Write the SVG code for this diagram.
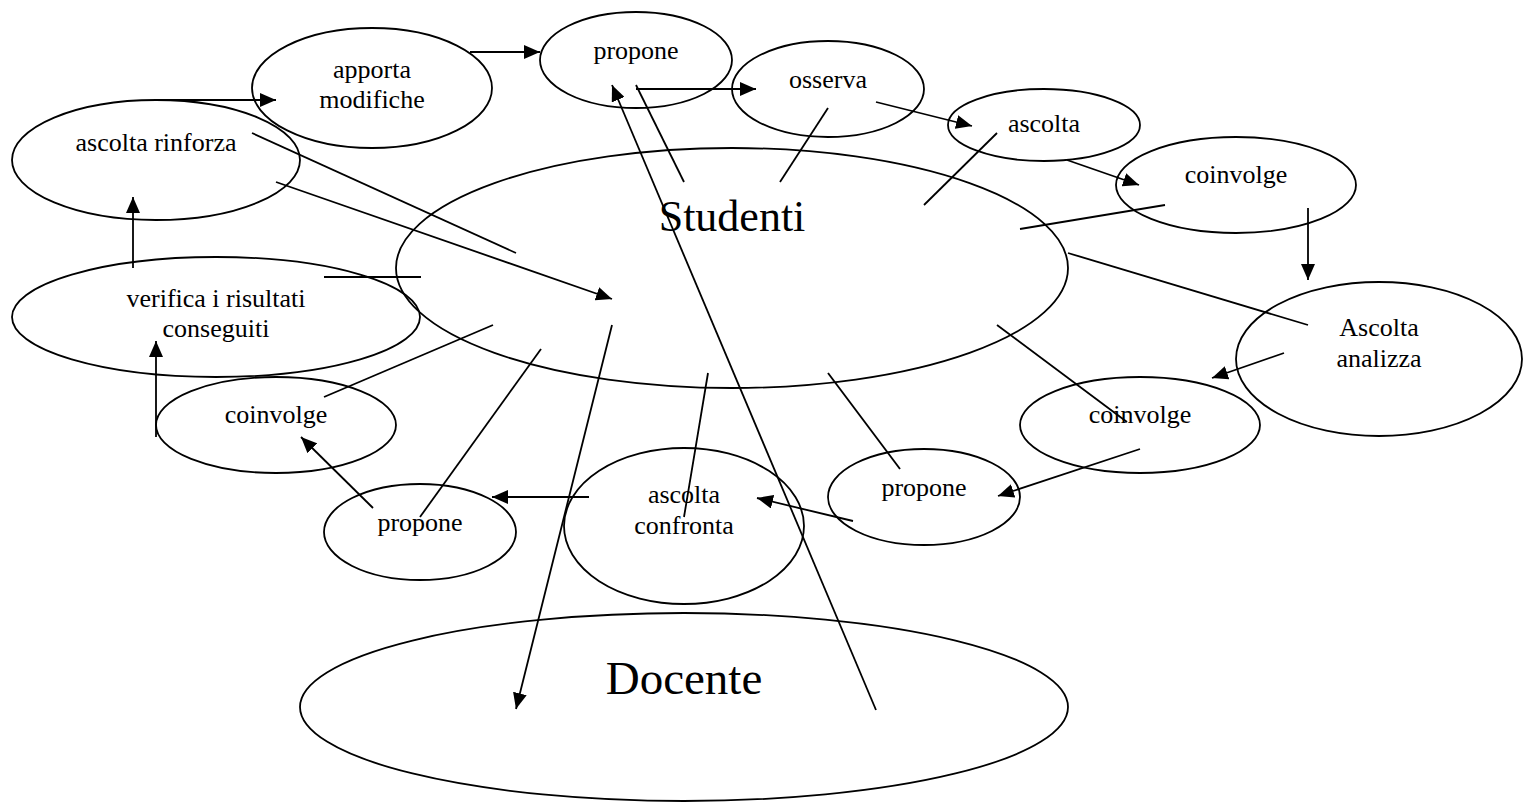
<svg xmlns="http://www.w3.org/2000/svg" width="1524" height="803" viewBox="0 0 1524 803">
<style>
.n{fill:none;stroke:#000;stroke-width:1.8}
.t{font-family:"Liberation Serif","Times New Roman",serif;font-size:26px;fill:#000;text-anchor:middle}
.b{font-family:"Liberation Serif","Times New Roman",serif;fill:#000;text-anchor:middle}
.c line{stroke:#000;stroke-width:1.8}
.a{marker-end:url(#ah)}
</style>
<defs>
<marker id="ah" markerUnits="userSpaceOnUse" markerWidth="16" markerHeight="14" refX="16" refY="7" orient="auto">
<path d="M0,0 L16,7 L0,14 z" fill="#000"/>
</marker>
</defs>
<rect width="1524" height="803" fill="#fff"/>
<g id="studenti"><ellipse class="n" cx="732" cy="268" rx="336" ry="120"/><text class="b" x="732" y="231" font-size="44">Studenti</text></g>
<g id="docente"><ellipse class="n" cx="684" cy="707" rx="384" ry="94"/><text class="b" x="684" y="694" font-size="47">Docente</text></g>
<g id="apporta"><ellipse class="n" cx="372" cy="88" rx="120" ry="60"/><text class="t" x="372" y="78">apporta</text><text class="t" x="372" y="108">modifiche</text></g>
<g id="rinforza"><ellipse class="n" cx="156" cy="160" rx="144" ry="60"/><text class="t" x="156" y="151">ascolta rinforza</text></g>
<g id="propone1"><ellipse class="n" cx="636" cy="60" rx="96" ry="48"/><text class="t" x="636" y="59">propone</text></g>
<g id="osserva"><ellipse class="n" cx="828" cy="89" rx="96" ry="48"/><text class="t" x="828" y="88">osserva</text></g>
<g id="ascolta"><ellipse class="n" cx="1044" cy="125" rx="96" ry="36"/><text class="t" x="1044" y="132">ascolta</text></g>
<g id="coinvolge1"><ellipse class="n" cx="1236" cy="185" rx="120" ry="48"/><text class="t" x="1236" y="183">coinvolge</text></g>
<g id="analizza"><ellipse class="n" cx="1379" cy="359" rx="143" ry="77"/><text class="t" x="1379" y="336">Ascolta</text><text class="t" x="1379" y="367">analizza</text></g>
<g id="coinvolge2"><ellipse class="n" cx="1140" cy="425" rx="120" ry="48"/><text class="t" x="1140" y="423">coinvolge</text></g>
<g id="propone2"><ellipse class="n" cx="924" cy="497" rx="96" ry="48"/><text class="t" x="924" y="496">propone</text></g>
<g id="confronta"><ellipse class="n" cx="684" cy="526" rx="120" ry="78"/><text class="t" x="684" y="503">ascolta</text><text class="t" x="684" y="534">confronta</text></g>
<g id="propone3"><ellipse class="n" cx="420" cy="532" rx="96" ry="48"/><text class="t" x="420" y="531">propone</text></g>
<g id="coinvolge3"><ellipse class="n" cx="276" cy="425" rx="120" ry="48"/><text class="t" x="276" y="423">coinvolge</text></g>
<g id="verifica"><ellipse class="n" cx="216" cy="317" rx="204" ry="60"/><text class="t" x="216" y="307">verifica i risultati</text><text class="t" x="216" y="337">conseguiti</text></g>
<g id="connectors" class="c">
<line class="a" x1="470" y1="52" x2="540" y2="52"/>
<line class="a" x1="155" y1="100" x2="276" y2="100"/>
<line class="a" x1="636" y1="89" x2="756" y2="89"/>
<line class="a" x1="876" y1="102" x2="972" y2="126"/>
<line class="a" x1="1067" y1="160" x2="1139" y2="185"/>
<line class="a" x1="1308" y1="208" x2="1308" y2="280"/>
<line class="a" x1="1284" y1="353" x2="1212" y2="378"/>
<line class="a" x1="1140" y1="449" x2="998" y2="496"/>
<line class="a" x1="853" y1="521" x2="757" y2="498"/>
<line class="a" x1="589" y1="497" x2="492" y2="497"/>
<line class="a" x1="373" y1="508" x2="301" y2="437"/>
<line class="a" x1="156" y1="437" x2="156" y2="341"/>
<line class="a" x1="133" y1="268" x2="133" y2="197"/>
<line class="a" x1="876" y1="710" x2="612" y2="85"/>
<line class="a" x1="612" y1="325" x2="516" y2="709"/>
<line class="a" x1="276" y1="182" x2="612" y2="299"/>
<line x1="252" y1="133" x2="516" y2="253"/>
<line x1="324" y1="277" x2="421" y2="277"/>
<line x1="324" y1="397" x2="493" y2="325"/>
<line x1="420" y1="517" x2="541" y2="349"/>
<line x1="684" y1="517" x2="708" y2="373"/>
<line x1="828" y1="373" x2="900" y2="469"/>
<line x1="997" y1="325" x2="1127" y2="422"/>
<line x1="1068" y1="253" x2="1308" y2="325"/>
<line x1="1020" y1="229" x2="1165" y2="205"/>
<line x1="924" y1="205" x2="997" y2="133"/>
<line x1="780" y1="182" x2="828" y2="108"/>
<line x1="636" y1="85" x2="684" y2="182"/>
</g>
</svg>
